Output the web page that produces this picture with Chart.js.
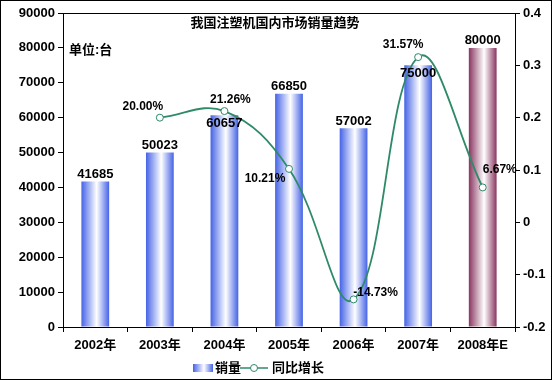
<!DOCTYPE html>
<html><head><meta charset="utf-8">
<script src="https://cdn.jsdelivr.net/npm/chart.js@4"></script>
<style>html,body{margin:0;padding:0;background:#fff}#wrap{width:552px;height:380px;position:relative}</style>
</head><body><div id="wrap"><canvas id="c" width="552" height="380"></canvas></div>
<script>
const categories = ['2002年','2003年','2004年','2005年','2006年','2007年','2008年E'];
const sales = [41685, 50023, 60657, 66850, 57002, 75000, 80000];
const growth = [null, 0.20, 0.2126, 0.1021, -0.1473, 0.3157, 0.0667];
const leftTicks = [0,10000,20000,30000,40000,50000,60000,70000,80000,90000];
const rightTicks = [-0.2,-0.1,0,0.1,0.2,0.3,0.4];
const titleText = '我国注塑机国内市场销量趋势';
const unitText = '单位:台';
const seriesNames = ['销量','同比增长'];

// label placement offsets (presentation only)
const barLabelDy = [-7, -7, 8, -7, -7, 8, -7];
const lineLabelOffset = [null, [-17,-11], [6,-11], [-24,10], [22,-7], [-15,-12], [17,-18]];

const FONT = "'Liberation Sans','Noto Sans CJK SC',sans-serif";
const blue = '#4563e6';
const maroon = '#8a3560';
const green = '#2f8a68';
const BAR_PCT = 0.43;

function barGrad(ctx, x, w, edge){
  const g = ctx.createLinearGradient(x - w/2, 0, x + w/2, 0);
  g.addColorStop(0, edge);
  g.addColorStop(0.55, '#ffffff');
  g.addColorStop(1, edge);
  return g;
}

function barFill(context){
  const chart = context.chart;
  const edge = context.dataIndex === categories.length-1 ? maroon : blue;
  const xs = chart.scales.x;
  if (!xs || !chart.chartArea) return edge;
  const x = xs.getPixelForValue(context.dataIndex);
  const w = (xs.width / categories.length) * BAR_PCT;
  return barGrad(chart.ctx, x, w, edge);
}

const decor = {
  id:'decor',
  beforeDraw(chart){
    const c = chart.ctx;
    c.save(); c.fillStyle='#fff'; c.fillRect(0,0,chart.width,chart.height); c.restore();
  },
  afterDatasetsDraw(chart){
    const c = chart.ctx;
    const a = chart.chartArea;
    c.save();
    c.strokeStyle='#000'; c.lineWidth=1;
    c.beginPath(); c.moveTo(a.left, a.top+0.5); c.lineTo(a.right, a.top+0.5); c.stroke();
    c.strokeRect(0.5,0.5,chart.width-1,chart.height-1);
    c.fillStyle='#000';
    c.font = 'bold 13px '+FONT;
    c.textAlign='center'; c.textBaseline='middle';
    c.fillText(titleText, 275, 23);
    c.textAlign='left';
    c.fillText(unitText, 69, 50);
    const bm = chart.getDatasetMeta(0);
    c.textAlign='center';
    bm.data.forEach((el,i)=>{
      c.fillText(String(sales[i]), el.x, el.y + barLabelDy[i]);
    });
    const lm = chart.getDatasetMeta(1);
    c.font = 'bold 12px '+FONT;
    lm.data.forEach((el,i)=>{
      if (growth[i]==null) return;
      const o = lineLabelOffset[i];
      c.fillText((growth[i]*100).toFixed(2)+'%', el.x+o[0], el.y+o[1]);
    });
    const ly = 368;
    c.fillStyle = barGrad(c, 203, 20, blue);
    c.fillRect(193, ly-4, 20, 8);
    c.fillStyle='#000';
    c.font='bold 13px '+FONT;
    c.textAlign='left';
    c.fillText(seriesNames[0], 215, ly);
    c.strokeStyle=green; c.lineWidth=1.5;
    c.beginPath(); c.moveTo(240,ly); c.lineTo(268,ly); c.stroke();
    c.fillStyle='#fff'; c.lineWidth=1;
    c.beginPath(); c.arc(254,ly,3.5,0,Math.PI*2); c.fill(); c.stroke();
    c.fillStyle='#000';
    c.fillText(seriesNames[1], 272, ly);
    c.restore();
  }
};

new Chart(document.getElementById('c'), {
  data:{
    labels: categories,
    datasets:[
      {type:'bar', label:seriesNames[0], data:sales, yAxisID:'y', backgroundColor:barFill,
       barPercentage:BAR_PCT, categoryPercentage:1.0, order:2},
      {type:'line', label:seriesNames[1], data:growth, yAxisID:'y1', borderColor:green, borderWidth:1.8,
       pointRadius:3.5, pointBackgroundColor:'#fff', pointBorderColor:green, pointBorderWidth:1,
       tension:0.4, spanGaps:true, order:1}
    ]
  },
  options:{
    responsive:false, animation:false, devicePixelRatio:1,
    layout:{padding:{top:13,left:0,right:0,bottom:0}},
    plugins:{legend:{display:false}, tooltip:{enabled:false}, title:{display:false}},
    scales:{
      x:{
        offset:true,
        grid:{display:true, offset:true, drawOnChartArea:false, drawTicks:true, tickLength:5, color:'#000'},
        border:{display:true, color:'#000'},
        ticks:{font:{family:FONT, size:13, weight:'bold'}, color:'#000', padding:6, maxRotation:0},
        afterFit(s){ s.height = 53; }
      },
      y:{
        position:'left', min:0, max:90000,
        afterBuildTicks(s){ s.ticks = leftTicks.map(v=>({value:v})); },
        grid:{display:true, drawOnChartArea:false, drawTicks:true, tickLength:5, color:'#000'},
        border:{display:true, color:'#000'},
        ticks:{font:{family:FONT, size:13, weight:'bold'}, color:'#000', padding:3,
          callback:(v)=> String(v)},
        afterFit(s){ s.width = 63; }
      },
      y1:{
        position:'right', min:-0.2, max:0.4,
        afterBuildTicks(s){ s.ticks = rightTicks.map(v=>({value:v})); },
        grid:{display:true, drawOnChartArea:false, drawTicks:true, tickLength:5, color:'#000'},
        border:{display:true, color:'#000'},
        ticks:{font:{family:FONT, size:13, weight:'bold'}, color:'#000', padding:3,
          callback:(v)=> (Math.round(v*10)/10).toString()},
        afterFit(s){ s.width = 37; }
      }
    }
  },
  plugins:[decor]
});
</script></body></html>
